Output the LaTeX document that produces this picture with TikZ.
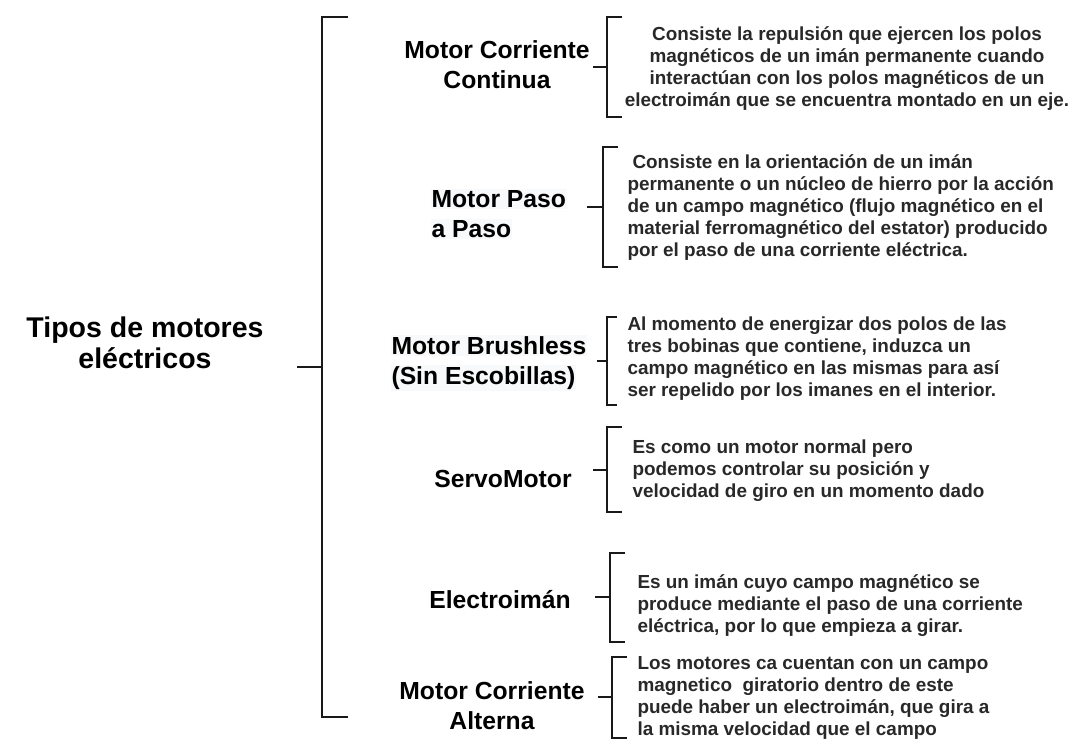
\documentclass[tikz,border=0pt]{standalone}
\usepackage{fontspec}
\setmainfont{Liberation Sans}
\usetikzlibrary{positioning}
\definecolor{hilite}{RGB}{248,249,250}
\definecolor{desctext}{RGB}{40,40,40}
\newcommand{\hl}[1]{{\setlength{\fboxsep}{1pt}\colorbox{hilite}{#1}}}
\tikzset{
    title/.style={font=\bfseries\fontsize{28.5}{31}\selectfont, align=center},
    motor/.style={font=\bfseries\fontsize{24.7}{30}\selectfont, align=center},
    desc/.style={font=\bfseries\fontsize{18.9}{22}\selectfont, text=desctext, align=left, anchor=west},
    brace/.style={line width=2pt, draw=black!90}
}
\begin{document}
\begin{tikzpicture}[x=1pt,y=-1pt]
    \useasboundingbox (0,0) rectangle (1076,745);
    % titulo y llave principal
    \node[title] (tipos) at (145,343) {Tipos de motores\\eléctricos};
    \coordinate (t0) at (297,367);
    \draw[brace] (348,17) -- (322,17) -- (322,717) -- (348,717);
    \draw[brace] (t0) -- (322,367);
    % tipos de motor
    \node[motor] (cc) at (497,65) {Motor Corriente\\Continua};
    \node[motor, align=left, anchor=west] (paso) at (427,214) {\hl{Motor Paso}\\\hl{a Paso}};
    \node[motor, align=left, anchor=west] (brush) at (387,363) {\hl{Motor Brushless}\\\hl{(Sin Escobillas)}};
    \node[motor] (servo) at (503,479) {ServoMotor};
    \node[motor] (electro) at (500,600) {Electroimán};
    \node[motor] (ca) at (492,706) {Motor Corriente\\Alterna};
    % descripciones
    \node[desc, align=center, anchor=center] (dcc) at (847,69) {Consiste la repulsión que ejercen los polos\\magnéticos de un imán permanente cuando\\interactúan con los polos magnéticos de un\\electroimán que se encuentra montado en un eje.};
    \node[desc] (dpaso) at (624,208) {\hspace*{5pt}Consiste en la orientación de un imán\\permanente o un núcleo de hierro por la acción\\de un campo magnético (flujo magnético en el\\material ferromagnético del estator) producido\\por el paso de una corriente eléctrica.};
    \node[desc] (dbrush) at (624,359) {Al momento de energizar dos polos de las\\tres bobinas que contiene, induzca un\\campo magnético en las mismas para así\\ser repelido por los imanes en el interior.};
    \node[desc] (dservo) at (629,471) {Es como un motor normal pero\\podemos controlar su posición y\\velocidad de giro en un momento dado};
    \node[desc] (delectro) at (634,606) {Es un imán cuyo campo magnético se\\produce mediante el paso de una corriente\\eléctrica, por lo que empieza a girar.};
    \node[desc] (dca) at (634,698) {Los motores ca cuentan con un campo\\magnetico \ giratorio dentro de este\\puede haber un electroimán, que gira a\\la misma velocidad que el campo};
    % llaves
    \coordinate (k1) at (593,67);
    \coordinate (k2) at (587,207);
    \coordinate (k3) at (597,361);
    \coordinate (k4) at (593,470);
    \coordinate (k5) at (595,597);
    \coordinate (k6) at (598,697);
    \draw[brace] (622,17) -- (607,17) -- (607,117) -- (622,117);
    \draw[brace] (k1) -- (607,67);
    \draw[brace] (618,147) -- (603,147) -- (603,267) -- (618,267);
    \draw[brace] (k2) -- (603,207);
    \draw[brace] (617,317) -- (607,317) -- (607,405) -- (617,405);
    \draw[brace] (k3) -- (607,361);
    \draw[brace] (622,427) -- (607,427) -- (607,512) -- (622,512);
    \draw[brace] (k4) -- (607,470);
    \draw[brace] (625,553) -- (610,553) -- (610,642) -- (625,642);
    \draw[brace] (k5) -- (610,597);
    \draw[brace] (627,657) -- (612,657) -- (612,738) -- (627,738);
    \draw[brace] (k6) -- (612,697);
\end{tikzpicture}
\end{document}
